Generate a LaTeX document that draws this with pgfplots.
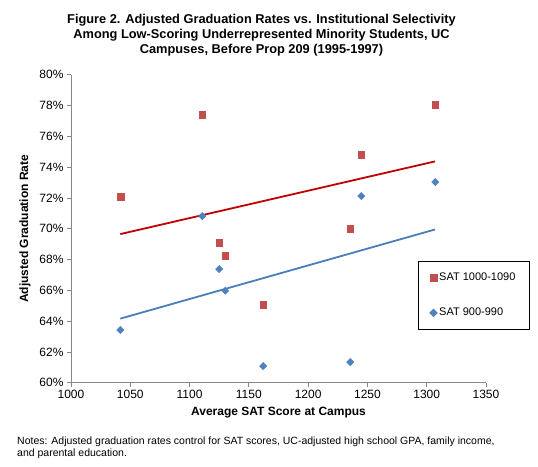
\documentclass[border=0pt]{standalone}
\usepackage{pgfplots}
\pgfplotsset{compat=1.18}
\usepackage{fontspec}
\setmainfont{Liberation Sans}
\definecolor{redm}{HTML}{C0504D}
\definecolor{bluem}{HTML}{4F81BD}
\definecolor{redl}{HTML}{C00000}
\definecolor{bluel}{HTML}{4A7EBB}
\definecolor{axgray}{HTML}{868686}
\begin{document}
\begin{tikzpicture}
\useasboundingbox (-71bp,-84.3bp) rectangle (467bp,382.7bp);
\begin{axis}[
  at={(0,0)}, anchor=origin,
  scale only axis, width=415bp, height=308bp,
  xmin=1000, xmax=1350, ymin=60, ymax=80,
  xtick={1000,1050,...,1350}, ytick={60,62,...,80},
  axis x line*=bottom, axis y line*=left,
  axis line style={-, draw=axgray, line width=0.75bp},
  tick style={draw=axgray, line width=0.75bp},
  tick align=outside, major tick length=4bp,
  /pgf/number format/assume math mode=true,
  /pgf/number format/1000 sep={},
  ticklabel style={font=\fontsize{12bp}{14bp}\selectfont},
  yticklabel={\pgfmathprintnumber{\tick}\%},
  xlabel={Average SAT Score at Campus},
  ylabel={Adjusted Graduation Rate},
  label style={font=\bfseries\fontsize{12bp}{14bp}\selectfont},
  xlabel style={at={(axis description cs:0.5,-0.098)}, anchor=center},
  ylabel style={at={(axis description cs:-0.111,0.5)}, anchor=center, rotate=0},
  legend style={at={(axis description cs:0.836,0.396)}, anchor=north west,
    draw=black, line width=0.75bp, inner xsep=11.5bp, inner ysep=10bp,
    row sep=22bp, font=\fontsize{11bp}{13bp}\selectfont,
    /tikz/every even column/.append style={column sep=0bp}},
  legend cell align=left,
  legend image code/.code={\draw[mark repeat=2,mark phase=2,#1] plot coordinates {(0bp,0bp) (3.5bp,0bp) (7bp,0bp)};},
  clip=false,
]
\addplot[redl, line width=1.8bp, forget plot] coordinates {(1041.6,69.65) (1307.0,74.37)};
\addplot[bluel, line width=1.8bp, forget plot] coordinates {(1041.6,64.16) (1307.0,69.95)};
\addplot[only marks, mark=square*, mark size=3.4bp, mark options={fill=redm, draw=redm}] coordinates {
(1041.6,72.06) (1110.7,77.38) (1125.0,69.11) (1130.1,68.25) (1162.1,65.06) (1235.5,69.98) (1244.8,74.79) (1307.2,78.07)};
\addlegendentry{SAT 1000-1090}
\addplot[only marks, mark=square*, mark size=2.6bp, mark options={fill=bluem, draw=bluem, rotate=45}] coordinates {
(1041.6,63.42) (1110.7,70.82) (1125.0,67.38) (1130.1,65.97) (1162.1,61.08) (1235.5,61.34) (1244.8,72.12) (1307.2,73.03)};
\addlegendentry{SAT 900-990}
\end{axis}
\node[align=center, font=\bfseries\fontsize{12.8bp}{14.6bp}\selectfont] at (190.5bp,347.5bp)
  {Figure 2. Adjusted Graduation Rates vs. Institutional Selectivity\\
   Among Low-Scoring Underrepresented Minority Students, UC\\
   Campuses, Before Prop 209 (1995-1997)};
\node[align=left, anchor=north west, inner sep=0pt, font=\fontsize{10.5bp}{11.7bp}\selectfont] at (-54bp,-54bp)
  {Notes: Adjusted graduation rates control for SAT scores, UC-adjusted high school GPA, family income,\\
   and parental education.};
\end{tikzpicture}
\end{document}
